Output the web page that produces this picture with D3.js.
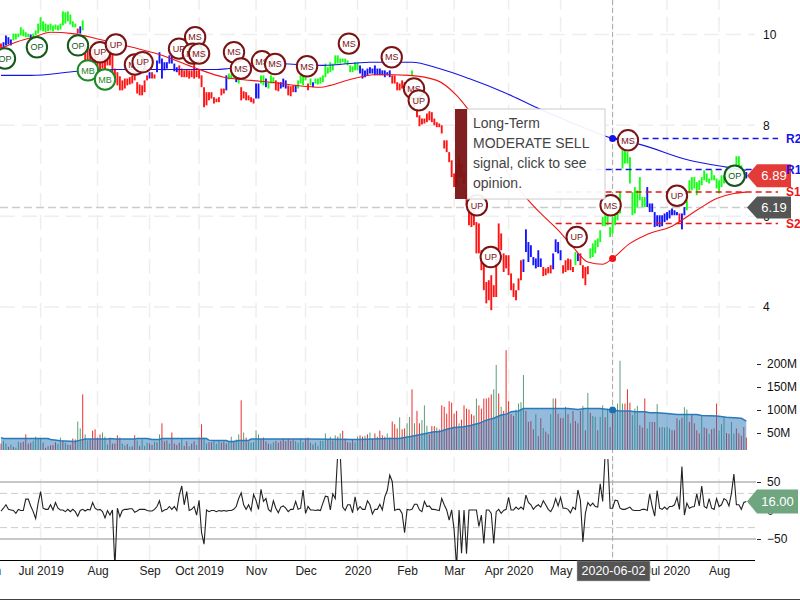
<!DOCTYPE html>
<html>
<head>
<meta charset="utf-8">
<script src="https://cdn.jsdelivr.net/npm/d3@7"></script>
<style>
  html, body { margin: 0; padding: 0; background: #fff; }
  svg { display: block; font-family: "Liberation Sans", Arial, sans-serif; }
</style>
</head>
<body>
<div id="chart"></div>
<script>
// price bars, one pair per trading day
const highs = [
  9.80,9.83,9.98,9.94,9.89,10.02,10.02,10.02,10.16,10.11,
  10.05,10.02,10.00,10.02,10.09,10.24,10.38,10.29,10.24,10.22,
  10.24,10.20,10.22,10.20,10.24,10.51,10.49,10.51,10.44,10.29,
  10.24,10.13,10.18,10.31,9.76,9.72,9.65,9.69,9.61,9.54,
  9.47,9.54,9.54,9.50,9.61,9.56,9.25,9.17,9.08,8.99,
  9.03,9.03,9.06,9.10,9.17,8.95,8.90,8.88,8.99,9.10,
  9.17,9.17,9.12,9.43,9.61,9.47,9.39,9.39,9.54,9.54,
  9.36,9.28,9.32,9.25,9.21,9.23,9.21,9.21,9.36,9.21,
  9.23,9.10,8.84,8.73,8.73,8.73,8.62,8.59,8.62,8.81,
  8.81,9.10,9.14,9.12,9.17,9.06,9.06,8.84,8.75,8.73,
  8.66,8.62,8.59,8.92,8.92,9.10,9.10,9.03,8.95,9.10,
  9.06,8.99,8.95,8.95,9.03,8.99,8.88,8.86,8.88,8.88,
  8.99,9.10,9.10,9.14,8.92,9.03,8.95,9.03,9.03,9.06,
  9.10,9.36,9.28,9.39,9.36,9.54,9.54,9.47,9.47,9.47,
  9.43,9.32,9.30,9.39,9.39,9.32,9.25,9.21,9.25,9.28,
  9.25,9.32,9.25,9.25,9.21,9.21,9.17,9.21,9.10,9.10,
  8.95,8.92,8.99,8.95,8.88,8.77,9.21,8.62,8.37,8.22,
  8.15,8.15,8.26,8.31,8.29,8.15,8.07,8.04,8.00,7.67,
  7.67,7.41,7.23,6.94,7.16,7.30,7.16,6.94,6.57,6.24,
  6.17,6.13,5.87,5.84,5.25,4.99,4.55,4.59,4.70,4.48,
  5.18,5.84,5.62,5.18,5.14,5.14,4.74,4.52,4.37,4.63,
  5.03,5.05,5.71,5.43,5.36,5.10,5.07,5.25,5.07,4.88,
  4.85,4.88,4.92,5.18,5.49,5.43,5.25,4.92,5.03,5.07,
  5.05,4.88,5.21,5.18,5.18,4.92,4.88,4.90,5.29,5.40,
  5.47,5.51,5.69,5.98,6.02,6.02,5.76,5.98,6.02,6.20,
  6.53,7.45,7.45,7.41,7.30,6.53,6.64,6.57,6.86,6.42,
  6.42,6.64,6.28,6.28,6.09,6.02,6.02,6.02,6.06,6.09,
  6.13,6.17,6.13,6.09,6.06,6.06,6.20,6.35,6.79,6.86,
  6.86,6.75,6.79,6.86,7.01,6.94,6.83,7.01,6.90,6.83,
  6.79,6.90,6.90,6.97,6.97,7.01,7.12,7.32,7.32,7.12,
  6.97,6.97
];
const lows = [
  9.69,9.69,9.76,9.78,9.76,9.87,9.89,9.94,9.98,9.96,
  9.94,9.94,9.89,9.91,9.98,10.02,10.09,10.07,10.05,10.07,
  10.09,10.07,10.11,10.09,10.11,10.20,10.24,10.29,10.22,10.16,
  10.16,10.02,10.02,10.09,9.43,9.39,9.39,9.39,9.32,9.25,
  9.21,9.25,9.21,9.32,9.32,9.17,9.03,8.88,8.77,8.77,
  8.81,8.88,8.90,8.92,8.99,8.70,8.66,8.66,8.73,8.99,
  9.03,9.03,9.03,9.17,9.36,9.03,9.21,9.25,9.36,9.36,
  9.19,9.17,9.10,9.06,9.06,9.06,9.03,9.06,9.03,9.06,
  9.03,8.84,8.40,8.44,8.55,8.59,8.48,8.51,8.51,8.66,
  8.70,8.77,9.01,9.03,9.03,8.95,8.92,8.55,8.59,8.55,
  8.55,8.51,8.48,8.59,8.59,8.92,8.88,8.84,8.81,8.92,
  8.92,8.77,8.75,8.81,8.84,8.81,8.66,8.64,8.73,8.73,
  8.81,8.92,8.88,8.99,8.77,8.88,8.84,8.92,8.90,8.92,
  8.95,9.06,9.14,9.17,9.21,9.34,9.36,9.36,9.39,9.36,
  9.32,9.17,9.17,9.21,9.21,9.14,9.03,9.06,9.10,9.14,
  9.14,9.10,9.10,9.10,9.10,9.06,9.10,9.06,8.92,8.92,
  8.77,8.77,8.81,8.81,8.70,8.55,9.10,8.37,8.18,7.98,
  8.02,8.04,8.07,8.11,8.07,8.00,7.96,7.96,7.82,7.49,
  7.41,7.19,6.86,6.64,6.68,6.86,6.86,6.72,6.24,5.80,
  5.76,5.80,5.18,5.18,4.81,4.37,4.08,4.15,3.93,4.22,
  4.22,5.25,5.25,4.77,4.85,4.70,4.37,4.22,4.15,4.37,
  4.59,4.77,5.21,4.99,5.10,4.92,4.85,4.88,4.88,4.68,
  4.70,4.74,4.74,4.83,5.21,5.18,5.03,4.74,4.77,4.81,
  4.81,4.77,4.92,5.01,4.92,4.63,4.48,4.72,5.07,5.10,
  5.18,5.32,5.43,5.78,5.78,5.80,5.54,5.62,5.80,5.91,
  6.06,7.05,7.16,7.16,6.72,6.02,6.06,6.20,6.35,6.20,
  6.20,6.20,6.09,6.09,5.76,5.78,5.76,5.78,5.87,5.91,
  5.95,6.02,6.02,6.02,5.87,5.71,6.02,6.13,6.50,6.57,
  6.61,6.46,6.57,6.68,6.79,6.75,6.72,6.79,6.79,6.61,
  6.50,6.64,6.72,6.79,6.79,6.83,6.90,7.12,7.05,6.90,
  6.79,6.83
];
// bar colour per run of days: r down, g up, b neutral
const trendRuns = [
  ["r",1],["b",4],["g",7],["b",1],["g",18],["r",1],["b",1],["g",1],["r",26],["b",1],
  ["r",2],["b",9],["r",19],["b",1],["g",3],["b",1],["g",1],["r",6],["b",2],["g",2],
  ["b",1],["g",3],["r",2],["b",3],["r",3],["b",1],["g",4],["r",1],["g",1],["b",1],
  ["g",18],["b",13],["r",8],["g",1],["r",44],["b",8],["r",4],["b",4],["r",5],["g",1],
  ["b",1],["r",4],["g",23],["b",13],["r",1],["b",2],["g",24],["b",1]
];

// moving averages, read at these days
const ma200Days = [0,12,31,47,87,92,109,130,149,166,177,189,203,216,230,247,258,278,293,301];
const ma200 = [9.10,9.10,9.19,9.23,9.23,9.25,9.36,9.32,9.39,9.39,9.25,9.03,8.73,8.40,8.07,7.71,7.58,7.23,7.08,7.01];
const ma50Days = [0,6,13,20,29,40,53,64,79,90,101,109,119,129,133,141,152,165,176,184,189,200,206,213,218,225,231,237,243,247,254,261,271,281,289,296,301];
const ma50 = [9.69,9.83,9.94,10.05,10.02,9.89,9.72,9.56,9.25,9.06,8.99,8.95,8.88,8.84,8.88,9.01,9.12,9.10,8.99,8.66,8.33,7.45,6.83,6.35,6.06,5.69,5.32,4.99,4.94,5.07,5.40,5.60,5.78,6.13,6.39,6.50,6.53];

// volume in millions
const volumes = [
  27,33,27,20,25,20,18,31,29,31,
  47,27,29,33,42,38,38,29,18,21,
  23,24,30,26,40,34,29,24,24,38,
  36,75,60,134,47,34,36,55,58,40,
  47,51,42,25,38,27,27,45,40,27,
  23,26,20,21,45,34,22,36,22,29,
  27,24,31,30,47,71,32,34,27,51,
  27,24,29,37,22,32,21,27,32,24,
  40,69,40,27,30,30,34,27,34,29,
  31,27,31,42,33,36,47,121,51,40,
  31,29,30,56,47,37,40,32,27,26,
  30,33,29,33,38,32,38,33,37,32,
  29,38,30,38,40,29,25,29,22,33,
  33,49,36,42,34,45,42,49,55,38,
  30,29,36,30,42,45,42,44,47,51,
  38,49,42,55,45,42,49,40,75,69,
  60,84,58,60,71,85,145,71,98,71,
  78,110,66,47,65,65,62,58,110,107,
  92,119,116,92,98,71,79,110,103,101,
  91,88,125,110,103,125,125,127,134,145,
  198,136,107,98,230,119,91,87,101,114,
  117,176,98,74,76,58,91,43,82,61,
  53,48,91,125,125,92,82,83,107,91,
  71,98,76,71,98,109,56,137,94,87,
  85,56,85,110,84,103,63,92,101,114,
  207,114,114,145,116,89,103,109,67,62,
  125,60,74,74,74,113,62,63,62,63,
  60,56,56,82,78,83,106,101,74,89,
  71,56,49,89,62,60,48,58,60,114,
  56,69,84,50,48,74,49,60,49,44,
  63,40
];
const volumeSides =
  "rggrgrggrr" + "rrrggggrrr" + "rrrggrgrrr" + "rggrggrrrr" + "rgggrrrrrg" + "grgrrgrggg" +
  "rrgrgrrrgr" + "rrrgrrgrrg" + "rrggrrgggr" + "rrggrggrgr" + "gggggrrrrg" + "grrrrrrrrg" +
  "gggrrgrggg" + "ggrgrgrgrr" + "rrrggrrgrg" + "rrgrrrgrrr" + "rgrrggrgrr" + "gggrrrgrrr" +
  "rrrrrgrrrr" + "rrgrrrrrrg" + "grgrrrrrgg" + "ggrrrrgrrg" + "rrggrrrrgr" + "grrrrgrgrg" +
  "grggrgrrgg" + "ggrrrgggrr" + "rggrrgrggg" + "grrrgrggrr" + "rrrgrrgrrr" + "gggrrggrrr" + "rr";
const volumeAvgDays = [0,1,19,20,24,30,32,34,43,44,46,54,55,59,61,64,65,83,84,86,91,92,94,96,100,101,123,144,157,161,163,166,170,173,175,177,180,183,187,190,193,196,199,202,204,206,209,211,218,225,229,233,236,242,245,250,254,256,260,262,265,269,273,281,283,289,293,299,301];
const volumeAvg = [40,38,38,36,33,31.6,34.5,36.7,36.7,38,36.7,36.7,38,38,36,36,38,38,34.5,33.8,33.8,31.6,31.6,33.8,33.8,36.7,36.7,36,38,38,40,43,47.5,50.5,52.6,52.6,58,62,63.5,67,71,78,82,89,91,96,98,103,103,103,103,101,103,103,101,97.6,97.6,96,96,94,94,92.5,90,90,88,87,84,82,76];

// CCI oscillator
const cci = [
  -1,4,10,2,1,0,-5,2,0,0,
  20,20,8,-2,-14,13,33,4,2,2,
  10,1,14,4,1,1,-2,2,-2,2,
  -2,-10,0,2,-1,2,1,14,4,1,
  2,-2,-13,0,-8,1,-100,4,-11,0,
  2,2,3,3,-3,-1,2,2,2,0,
  -1,-1,2,7,17,-2,1,2,7,2,
  7,0,27,43,10,33,0,2,7,-8,
  18,-39,-59,1,-2,0,0,-2,0,-1,
  0,-1,0,0,2,7,21,31,10,2,
  10,0,28,18,2,37,16,21,2,-2,
  17,4,-4,6,8,4,-2,2,2,16,
  2,4,36,-5,7,1,1,0,1,0,
  13,25,24,1,29,21,100,100,6,0,
  10,10,-4,24,1,7,2,2,17,10,
  -6,2,2,11,1,24,35,62,51,0,
  2,2,-5,-39,2,1,2,11,11,1,
  -2,16,7,8,2,2,1,0,21,10,
  1,-17,1,-34,-100,1,-75,1,-76,1,
  1,1,1,-28,-8,-58,1,1,-5,-58,
  -2,2,-5,0,2,23,1,1,6,2,
  6,2,27,14,10,2,7,10,6,17,
  10,2,-2,6,21,8,23,4,4,2,
  -4,6,2,36,18,-55,-5,14,8,13,
  7,6,47,16,100,100,4,4,18,17,
  4,2,2,4,6,1,0,0,0,2,
  2,0,29,7,-10,35,4,2,6,2,
  7,7,10,23,2,77,-8,13,4,6,
  7,29,8,43,7,4,21,4,2,21,
  7,10,21,18,8,30,64,10,10,2,
  14,16
];

// signal bubbles: day, price, label
const signalDays = [1.6,14.5,31.1,35.1,40,42,46.4,54.1,57.2,71.9,78.4,77.5,80,94.1,96.9,105.4,110.7,123.6,140.5,157.8,166.8,168.7,192.2,197.8,232.5,246.2,253.2,273,296.3];
const signalPrices = [9.47,9.72,9.76,9.21,9.61,9.01,9.78,9.34,9.39,9.69,9.94,9.58,9.58,9.61,9.25,9.41,9.35,9.30,9.80,9.50,8.81,8.55,6.24,5.10,5.54,6.24,7.67,6.45,6.89];
const signalLabels = ["OP","OP","OP","MB","UP","MB","UP","MS","UP","UP","MS","MS","MS","MS","MS","MS","MS","MS","MS","MS","MS","UP","UP","UP","UP","MS","MS","UP","OP"];

// the June 2020 label sits under the date flag, so it stays blank
const tickDays = [-4,16,39,60,80,103,123,144,164,183,205,226,247,269,290];
const tickLabels = ["Jun","Jul 2019","Aug","Sep","Oct 2019","Nov","Dec","2020","Feb","Mar","Apr 2020","May","","Jul 2020","Aug"];
const priceTicks = [4,6,8,10];
const volumeTicks = [50,100,150,200];
const cciTicks = [-50,0,50];
const cciBands = [-30,30];

const levelNames = ["R2","R1","S1","S2"];
const levelValues = [7.71,7.03,6.53,5.84];
const levelStarts = [247,224,224,224];
const lastPrice = 6.89;
const crossPrice = 6.19;
const crossDay = 247;
const crossDate = "2020-06-02";
const lastCci = 16;
const crossVolume = 100;
const tooltipLines = ["Long-Term","MODERATE SELL","signal, click to see","opinion."];

const width = 800, height = 600;
const barColor = { r: "#ff1414", g: "#14ff14", b: "#1414ff" };
const volColor = { r: "#e8302a", g: "#5a9e78" };
const signalColor = { MS: "#7a1414", UP: "#7a1414", OP: "#15591a", MB: "#1c8a24" };

const x = d3.scaleLinear().domain([0, 301]).range([1, 746.3]);
const yPrice = d3.scaleLinear().domain([4, 10]).range([307, 34.5]);
const yVolume = d3.scaleLinear().domain([0, 200]).range([456, 364]);
const yCci = d3.scaleLinear().domain([-50, 50]).range([539, 482]);

const trend = trendRuns.flatMap(([c, n]) => d3.range(n).map(() => c));

const svg = d3.select("#chart").append("svg")
  .attr("width", width).attr("height", height);

const defs = svg.append("defs");
defs.append("clipPath").attr("id", "clip-vol").append("rect")
  .attr("x", 0).attr("y", 340).attr("width", 756).attr("height", 110);
defs.append("clipPath").attr("id", "clip-cci").append("rect")
  .attr("x", 0).attr("y", 459).attr("width", 756).attr("height", 101);

// grid
const grid = svg.append("g");
grid.selectAll(".vgrid").data(tickDays).enter().append("line")
  .attr("x1", d => x(d)).attr("x2", d => x(d))
  .attr("y1", -5.3).attr("y2", 560)
  .attr("stroke", "#eee").attr("stroke-width", 1.5).attr("stroke-dasharray", "15,7");
grid.selectAll(".hgrid").data(priceTicks).enter().append("line")
  .attr("x1", 0).attr("x2", 755)
  .attr("y1", d => yPrice(d)).attr("y2", d => yPrice(d))
  .attr("stroke", "#eee").attr("stroke-width", 1.5).attr("stroke-dasharray", "15,7");

// crosshair
grid.append("line")
  .attr("x1", x(crossDay)).attr("x2", x(crossDay)).attr("y1", 0).attr("y2", 560)
  .attr("stroke", "#aaa").attr("stroke-dasharray", "5,3");
grid.append("line")
  .attr("x1", 0).attr("x2", 750)
  .attr("y1", yPrice(crossPrice)).attr("y2", yPrice(crossPrice))
  .attr("stroke", "#ccc").attr("stroke-width", 1.5).attr("stroke-dasharray", "8,4");

// volume pane
const volPane = svg.append("g").attr("clip-path", "url(#clip-vol)");
volPane.selectAll(".vol").data(volumes).enter().append("line")
  .attr("x1", (d, i) => x(i)).attr("x2", (d, i) => x(i))
  .attr("y1", yVolume(0)).attr("y2", d => yVolume(d))
  .attr("stroke", (d, i) => volColor[volumeSides[i]]).attr("stroke-width", 1);
const volArea = d3.area()
  .x((d, i) => x(volumeAvgDays[i]))
  .y0(yVolume(0)).y1(d => yVolume(d));
const volLine = d3.line()
  .x((d, i) => x(volumeAvgDays[i]))
  .y(d => yVolume(d));
volPane.append("path").datum(volumeAvg).attr("d", volArea)
  .attr("fill", "#2a78b8").attr("fill-opacity", 0.5);
volPane.append("path").datum(volumeAvg).attr("d", volLine)
  .attr("fill", "none").attr("stroke", "#2a7ab9").attr("stroke-width", 1.5);

// oscillator pane
svg.selectAll(".cciTick").data([-50, 50]).enter().append("line")
  .attr("x1", 0).attr("x2", 756)
  .attr("y1", d => yCci(d)).attr("y2", d => yCci(d))
  .attr("stroke", "#b4b4b4").attr("stroke-width", 1.5);
svg.selectAll(".cciBand").data(cciBands).enter().append("line")
  .attr("x1", 0).attr("x2", 756)
  .attr("y1", d => yCci(d)).attr("y2", d => yCci(d))
  .attr("stroke", "#ccc").attr("stroke-dasharray", "7,4");
svg.append("g").attr("clip-path", "url(#clip-cci)").append("path").datum(cci)
  .attr("d", d3.line().x((d, i) => x(i)).y(d => yCci(d)))
  .attr("fill", "none").attr("stroke", "#222").attr("stroke-width", 1.1);

// price bars
svg.append("g").selectAll("line").data(highs).enter().append("line")
  .attr("x1", (d, i) => x(i)).attr("x2", (d, i) => x(i))
  .attr("y1", d => yPrice(d)).attr("y2", (d, i) => yPrice(lows[i]))
  .attr("stroke", (d, i) => barColor[trend[i]]).attr("stroke-width", 1.9);

// moving averages
svg.append("path").datum(ma200)
  .attr("d", d3.line().x((d, i) => x(ma200Days[i])).y(d => yPrice(d)).curve(d3.curveMonotoneX))
  .attr("fill", "none").attr("stroke", "#1414e6").attr("stroke-width", 1.1);
svg.append("path").datum(ma50)
  .attr("d", d3.line().x((d, i) => x(ma50Days[i])).y(d => yPrice(d)).curve(d3.curveMonotoneX))
  .attr("fill", "none").attr("stroke", "#f01414").attr("stroke-width", 1.1);

// support and resistance
svg.append("g").selectAll("line").data(levelValues).enter().append("line")
  .attr("x1", (d, i) => x(levelStarts[i])).attr("x2", 778)
  .attr("y1", d => yPrice(d)).attr("y2", d => yPrice(d))
  .attr("stroke", (d, i) => levelNames[i][0] === "R" ? "#1414e6" : "#f01414")
  .attr("stroke-width", 1.5).attr("stroke-dasharray", "6,4");

// signal bubbles
const signals = svg.append("g").selectAll("g").data(signalLabels).enter().append("g")
  .attr("transform", (d, i) => `translate(${x(signalDays[i])},${yPrice(signalPrices[i])})`);
signals.append("circle")
  .attr("r", 10.2).attr("fill", "#fff").attr("fill-opacity", 0.9)
  .attr("stroke", d => signalColor[d]).attr("stroke-width", 2);
signals.append("text")
  .attr("text-anchor", "middle").attr("dy", "0.36em")
  .attr("font-size", 9).attr("fill", d => signalColor[d])
  .text(d => d);

// axes
const xAxis = d3.axisBottom(x)
  .tickValues(tickDays)
  .tickFormat((d, i) => tickLabels[i])
  .tickSize(0).tickPadding(6);
const xG = svg.append("g").attr("transform", "translate(0,560)").call(xAxis);
xG.select(".domain").remove();
xG.selectAll("text").attr("font-size", 12).attr("font-family", "inherit").attr("fill", "#222");
svg.append("line").attr("x1", 0).attr("x2", 755).attr("y1", 560.5).attr("y2", 560.5).attr("stroke", "#000");

function styleAxis(g) {
  g.select(".domain").remove();
  g.selectAll("text").attr("font-size", 12).attr("font-family", "inherit").attr("fill", "#111");
  g.selectAll("line").attr("stroke", "#222");
}
svg.append("g").attr("transform", "translate(763,0)")
  .call(d3.axisRight(yPrice).tickValues(priceTicks).tickSize(0).tickPadding(0).tickFormat(d3.format("d")))
  .call(styleAxis);
svg.append("g").attr("transform", "translate(757,0)")
  .call(d3.axisRight(yVolume).tickValues(volumeTicks).tickSize(4).tickPadding(6).tickFormat(d => d + "M"))
  .call(styleAxis);
svg.append("g").attr("transform", "translate(757,0)")
  .call(d3.axisRight(yCci).tickValues(cciTicks).tickSize(4).tickPadding(6).tickFormat(d3.format("d")))
  .call(styleAxis);

// tooltip
svg.append("rect").attr("x", 467).attr("y", 109).attr("width", 138).attr("height", 90)
  .attr("fill", "#fff").attr("fill-opacity", 0.93).attr("stroke", "#ccc");
svg.append("rect").attr("x", 455).attr("y", 109).attr("width", 12).attr("height", 90)
  .attr("fill", "#7a1414").attr("fill-opacity", 0.95);
svg.append("g").selectAll("text").data(tooltipLines).enter().append("text")
  .attr("x", 473).attr("y", (d, i) => 128 + i * 20)
  .attr("font-size", 14).attr("fill", "#444")
  .text(d => d);

// dots where the crosshair meets each series
svg.append("circle").attr("cx", x(crossDay)).attr("cy", yPrice(levelValues[0])).attr("r", 3.5).attr("fill", "#1414e6");
svg.append("circle").attr("cx", x(crossDay)).attr("cy", yPrice(ma50[29])).attr("r", 3.5).attr("fill", "#f01414");
svg.append("circle").attr("cx", x(crossDay)).attr("cy", yVolume(crossVolume)).attr("r", 3.5).attr("fill", "#1f6fb0");

// value flags on the right
function flag(y, right, color, text) {
  const left = 747, body = 757, half = y.h;
  const p = d3.path();
  p.moveTo(left, y.c);
  p.lineTo(body, y.c - half);
  p.lineTo(right, y.c - half);
  p.lineTo(right, y.c + half);
  p.lineTo(body, y.c + half);
  p.closePath();
  svg.append("path").attr("d", p.toString()).attr("fill", color);
  svg.append("text")
    .attr("x", (body + right) / 2).attr("y", y.c).attr("dy", "0.36em")
    .attr("text-anchor", "middle").attr("font-size", 13).attr("fill", "#fff")
    .text(text);
}
flag({ c: yPrice(crossPrice), h: 11 }, 791, "#555", d3.format(".2f")(crossPrice));
flag({ c: yPrice(lastPrice), h: 11.5 }, 791, "#e23b38", d3.format(".2f")(lastPrice));
flag({ c: yCci(lastCci), h: 12 }, 798, "#6fa67f", d3.format(".2f")(lastCci));

// level names go over the flags
svg.append("g").selectAll("text").data(levelValues).enter().append("text")
  .attr("x", 786).attr("y", d => yPrice(d)).attr("dy", "0.36em")
  .attr("font-size", 12).attr("font-weight", "bold")
  .attr("fill", (d, i) => levelNames[i][0] === "R" ? "#1414e6" : "#f01414")
  .text((d, i) => levelNames[i]);

// date under the crosshair
svg.append("rect").attr("x", 577).attr("y", 561).attr("width", 73).attr("height", 20)
  .attr("fill", "#555").attr("stroke", "#bbb").attr("stroke-width", 0.5);
svg.append("text").attr("x", 613.5).attr("y", 570.5).attr("dy", "0.36em")
  .attr("text-anchor", "middle").attr("font-size", 12.5).attr("fill", "#fff")
  .text(crossDate);

svg.append("line").attr("x1", 0).attr("x2", 800).attr("y1", 599.5).attr("y2", 599.5).attr("stroke", "#444");
</script>
</body>
</html>
